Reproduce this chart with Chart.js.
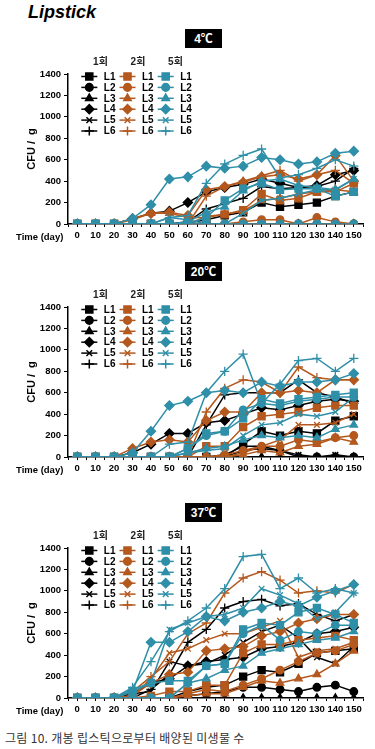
<!DOCTYPE html>
<html>
<head>
<meta charset="utf-8">
<script src="https://cdn.jsdelivr.net/npm/chart.js@4.4.1/dist/chart.umd.min.js"></script>
<style>
  body { margin: 0; width: 375px; height: 749px; background: #fff; position: relative; overflow: hidden; font-family: "Liberation Sans", Arial, sans-serif; }
  .abs { position: absolute; }
  #title { left: 28px; top: 2px; font: italic bold 18px "Liberation Sans", Arial, sans-serif; }
  .tbox { left: 185px; width: 37px; height: 19px; line-height: 19px; background: #000; color: #fff; text-align: center; font: bold 12px "Liberation Sans", "Noto Sans CJK KR", sans-serif; }
  .tday { left: 16px; height: 12px; line-height: 12px; font: bold 9.5px "Liberation Sans", Arial, sans-serif; }
  #caption { left: 5px; top: 729px; font: 12px "Noto Sans CJK KR", sans-serif; color: #333; letter-spacing: 0.3px; }
</style>
</head>
<body>
<div id="title" class="abs">Lipstick</div>
<div id="caption" class="abs">그림 10. 개봉 립스틱으로부터 배양된 미생물 수</div>

<script>
// --- Data ---
const days = [0, 10, 20, 30, 40, 50, 60, 70, 80, 90, 100, 110, 120, 130, 140, 150];
const lineNames = ['L1', 'L2', 'L3', 'L4', 'L5', 'L6'];
const groupNames = ['1회', '2회', '5회'];
const yTicks = { min: 0, max: 1400, step: 200 };

// 4℃  (rows: L1..L6)
const t4_r1 = [
  [0, 0, 0, 0, 0, 0, 10, 40, 80, 110, 200, 160, 180, 200, 260, 300],
  [0, 0, 0, 0, 0, 0, 0, 0, 0, 0, 0, 0, 0, 0, 0, 0],
  [0, 0, 0, 0, 0, 0, 0, 0, 0, 0, 0, 0, 0, 0, 0, 0],
  [0, 0, 0, 50, 100, 120, 200, 300, 340, 370, 420, 380, 340, 360, 460, 500],
  [0, 0, 0, 0, 0, 0, 0, 0, 0, 0, 0, 0, 0, 0, 0, 0],
  [0, 0, 0, 0, 0, 0, 20, 140, 190, 240, 350, 330, 340, 350, 400, 520],
];
const t4_r2 = [
  [0, 0, 0, 0, 0, 0, 0, 70, 90, 130, 280, 220, 240, 300, 300, 380],
  [0, 0, 0, 0, 0, 0, 0, 0, 0, 20, 40, 40, 0, 60, 20, 0],
  [0, 0, 0, 40, 100, 100, 60, 60, 90, 120, 220, 240, 280, 300, 320, 300],
  [0, 0, 0, 50, 100, 110, 80, 320, 350, 390, 440, 460, 420, 460, 640, 400],
  [0, 0, 0, 0, 0, 0, 0, 0, 0, 0, 0, 0, 0, 0, 0, 0],
  [0, 0, 0, 0, 0, 0, 0, 260, 350, 400, 450, 500, 400, 460, 500, 380],
];
const t4_r3 = [
  [0, 0, 0, 0, 0, 0, 0, 60, 220, 330, 380, 320, 330, 330, 260, 300],
  [0, 0, 0, 0, 0, 0, 0, 0, 0, 0, 0, 0, 0, 0, 0, 0],
  [0, 0, 0, 0, 0, 0, 20, 110, 160, 310, 400, 420, 360, 340, 320, 420],
  [0, 0, 0, 50, 180, 420, 440, 540, 520, 540, 620, 600, 560, 580, 660, 680],
  [0, 0, 0, 0, 0, 60, 40, 0, 0, 100, 220, 240, 280, 320, 320, 420],
  [0, 0, 0, 0, 0, 60, 80, 380, 560, 640, 700, 430, 460, 520, 600, 540],
];

// 20℃
const t20_r1 = [
  [0, 0, 0, 0, 0, 0, 0, 0, 0, 120, 240, 200, 240, 220, 340, 380],
  [0, 0, 0, 0, 0, 0, 0, 0, 0, 60, 80, 60, 0, 0, 0, 0],
  [0, 0, 0, 0, 0, 0, 0, 0, 0, 0, 0, 0, 0, 0, 0, 0],
  [0, 0, 0, 40, 120, 220, 220, 320, 340, 400, 460, 440, 480, 520, 540, 520],
  [0, 0, 0, 0, 0, 0, 0, 0, 20, 100, 100, 60, 20, 0, 20, 0],
  [0, 0, 0, 0, 0, 0, 0, 300, 580, 600, 600, 600, 720, 600, 560, 500],
];
const t20_r2 = [
  [0, 0, 0, 0, 0, 0, 0, 100, 100, 280, 380, 400, 420, 460, 480, 480],
  [0, 0, 0, 0, 0, 0, 0, 0, 20, 60, 100, 100, 160, 140, 180, 200],
  [0, 0, 0, 0, 0, 0, 0, 0, 0, 20, 60, 40, 100, 120, 180, 140],
  [0, 0, 0, 80, 140, 160, 140, 340, 420, 420, 600, 600, 620, 600, 720, 720],
  [0, 0, 0, 0, 0, 0, 0, 0, 0, 40, 100, 160, 300, 300, 320, 400],
  [0, 0, 0, 0, 0, 0, 0, 420, 640, 720, 700, 600, 840, 740, 720, 720],
];
const t20_r3 = [
  [0, 0, 0, 0, 0, 0, 80, 220, 240, 360, 540, 500, 540, 560, 580, 600],
  [0, 0, 0, 0, 0, 0, 80, 200, 240, 440, 500, 480, 520, 540, 560, 560],
  [0, 0, 0, 0, 0, 0, 40, 80, 100, 160, 200, 180, 200, 180, 260, 300],
  [0, 0, 0, 40, 240, 480, 520, 600, 620, 600, 700, 660, 700, 700, 720, 780],
  [0, 0, 0, 0, 0, 0, 40, 60, 80, 200, 300, 320, 400, 380, 420, 560],
  [0, 0, 0, 0, 0, 120, 140, 600, 800, 960, 500, 680, 900, 920, 800, 920],
];

// 37℃
const t37_r1 = [
  [0, 0, 0, 0, 0, 0, 60, 100, 120, 200, 260, 240, 320, 420, 440, 460],
  [0, 0, 0, 0, 0, 0, 20, 40, 60, 100, 100, 80, 60, 100, 120, 60],
  [0, 0, 0, 0, 0, 0, 0, 0, 0, 0, 0, 0, 0, 0, 0, 0],
  [0, 0, 0, 40, 140, 180, 300, 340, 360, 380, 460, 480, 520, 600, 620, 660],
  [0, 0, 0, 40, 60, 340, 300, 320, 400, 520, 620, 680, 560, 380, 320, 480],
  [0, 0, 0, 0, 80, 220, 520, 640, 840, 900, 920, 860, 880, 780, 720, 780],
];
const t37_r2 = [
  [0, 0, 0, 0, 20, 60, 60, 120, 120, 420, 500, 500, 540, 560, 580, 540],
  [0, 0, 0, 0, 0, 0, 40, 80, 60, 120, 180, 260, 340, 420, 440, 500],
  [0, 0, 0, 0, 0, 0, 20, 40, 40, 100, 160, 140, 180, 220, 320, 440],
  [0, 0, 0, 20, 140, 220, 240, 440, 460, 480, 580, 620, 700, 740, 780, 780],
  [0, 0, 0, 20, 180, 420, 460, 540, 600, 600, 660, 720, 380, 440, 460, 520],
  [0, 0, 0, 60, 200, 340, 600, 700, 980, 1120, 1180, 1100, 980, 1000, 980, 1060],
];
const t37_r3 = [
  [0, 0, 0, 60, 140, 160, 160, 300, 320, 640, 700, 680, 800, 840, 780, 700],
  [0, 0, 0, 0, 0, 0, 140, 300, 320, 600, 680, 540, 620, 600, 680, 680],
  [0, 0, 0, 0, 0, 0, 140, 180, 260, 300, 420, 460, 500, 540, 560, 620],
  [0, 0, 0, 60, 520, 520, 620, 760, 720, 800, 840, 900, 860, 940, 1000, 1060],
  [0, 0, 0, 80, 140, 640, 700, 760, 780, 840, 1020, 960, 880, 740, 800, 980],
  [0, 0, 0, 100, 340, 620, 720, 840, 1020, 1320, 1340, 1020, 1120, 980, 1020, 980],
];

// --- Styles ---
const colors = ['#000000', '#b4581e', '#2f8fa8'];
const shapes = ['rect', 'circle', 'triangle', 'rectRot', 'crossRot', 'cross'];
const radii = [5, 3.8, 4.3, 4.6, 4, 4.6];
const FONT = '"Liberation Sans", Arial, sans-serif';

const panels = [
  { label: '4℃', top: 73.7, groups: [t4_r1, t4_r2, t4_r3] },
  { label: '20℃', top: 307.3, groups: [t20_r1, t20_r2, t20_r3] },
  { label: '37℃', top: 548.3, groups: [t37_r1, t37_r2, t37_r3] },
];

const PAD_TOP = 20, PLOT_H = 150, X_AXIS_H = 26;

// legend drawn inside the plot area, 3 columns x 6 rows
const gridLegend = {
  id: 'gridLegend',
  afterDraw(chart) {
    const ctx = chart.ctx;
    const top = chart.chartArea.top;
    ctx.save();
    ctx.textBaseline = 'middle';
    groupNames.forEach((name, g) => {
      ctx.fillStyle = '#222';
      ctx.font = 'bold 10px ' + FONT + ', "Noto Sans CJK KR"';
      ctx.textAlign = 'center';
      ctx.fillText(name, 100.5 + g * 37.5, top - 12);
    });
    chart.data.datasets.forEach((ds, i) => {
      const g = Math.floor(i / 6), r = i % 6;
      const cx = 89.3 + g * 38.2, cy = top + 2.5 + r * 10.9;
      ctx.strokeStyle = ds.borderColor;
      ctx.fillStyle = ds.borderColor;
      ctx.lineWidth = 1.5;
      ctx.beginPath();
      ctx.moveTo(cx - 8, cy);
      ctx.lineTo(cx + 8, cy);
      ctx.stroke();
      Chart.helpers.drawPoint(ctx, { pointStyle: ds.pointStyle, radius: ds.pointRadius, rotation: 0, borderWidth: 1.5 }, cx, cy);
      ctx.fillStyle = '#000';
      ctx.textAlign = 'left';
      ctx.font = 'bold 10px ' + FONT;
      ctx.fillText(ds.label, cx + 14.5, cy + 0.5);
    });
    ctx.restore();
  }
};

function buildDatasets(groups) {
  const sets = [];
  groups.forEach((rows, g) => {
    rows.forEach((vals, r) => {
      sets.push({
        label: lineNames[r],
        data: vals.map((v, i) => ({ x: days[i], y: v })),
        borderColor: colors[g],
        backgroundColor: colors[g],
        pointBackgroundColor: colors[g],
        pointBorderColor: colors[g],
        borderWidth: 1.5,
        pointBorderWidth: 1.3,
        pointStyle: shapes[r],
        pointRadius: radii[r],
        tension: 0,
        order: 2 - g,
      });
    });
  });
  return sets;
}

Chart.defaults.font.family = FONT;
Chart.defaults.color = '#000';

panels.forEach(p => {
  const canvas = document.createElement('canvas');
  canvas.width = 375;
  canvas.height = PAD_TOP + PLOT_H + X_AXIS_H;
  canvas.className = 'abs';
  canvas.style.left = '0px';
  canvas.style.top = (p.top - PAD_TOP) + 'px';
  document.body.appendChild(canvas);

  const box = document.createElement('div');
  box.className = 'abs tbox';
  box.style.top = (p.top - 45) + 'px';
  box.textContent = p.label;
  document.body.appendChild(box);

  const tday = document.createElement('div');
  tday.className = 'abs tday';
  tday.style.top = (p.top + PLOT_H + 7) + 'px';
  tday.textContent = 'Time (day)';
  document.body.appendChild(tday);

  new Chart(canvas.getContext('2d'), {
    type: 'line',
    data: { datasets: buildDatasets(p.groups) },
    plugins: [gridLegend],
    options: {
      responsive: false,
      animation: false,
      layout: { padding: { top: PAD_TOP, right: 12, left: 0, bottom: 0 } },
      plugins: { legend: { display: false }, tooltip: { enabled: false } },
      scales: {
        x: {
          type: 'linear', min: -5, max: 155,
          afterFit: s => { s.height = X_AXIS_H; },
          ticks: {
            stepSize: 5, autoSkip: false, maxRotation: 0, padding: 3, color: '#000',
            font: { size: 9.5, weight: 'bold' },
            callback: v => (v >= 0 && v % 10 === 0) ? String(v) : '',
          },
          grid: { drawOnChartArea: false, tickLength: 3, color: '#000' },
          border: { color: '#000', width: 1.5 },
        },
        y: {
          min: yTicks.min, max: yTicks.max,
          afterFit: s => { s.width = 68; },
          ticks: { stepSize: yTicks.step, padding: 3, color: '#000', font: { size: 9.5, weight: 'bold' }, callback: v => String(v) },
          grid: { drawOnChartArea: false, tickLength: 4, color: '#000' },
          border: { color: '#000', width: 1.5 },
          title: { display: true, text: 'CFU /  g', color: '#000', font: { size: 11, weight: 'bold' }, padding: { top: 25, bottom: 0 } },
        },
      },
    },
  });
});
</script>
</body>
</html>
